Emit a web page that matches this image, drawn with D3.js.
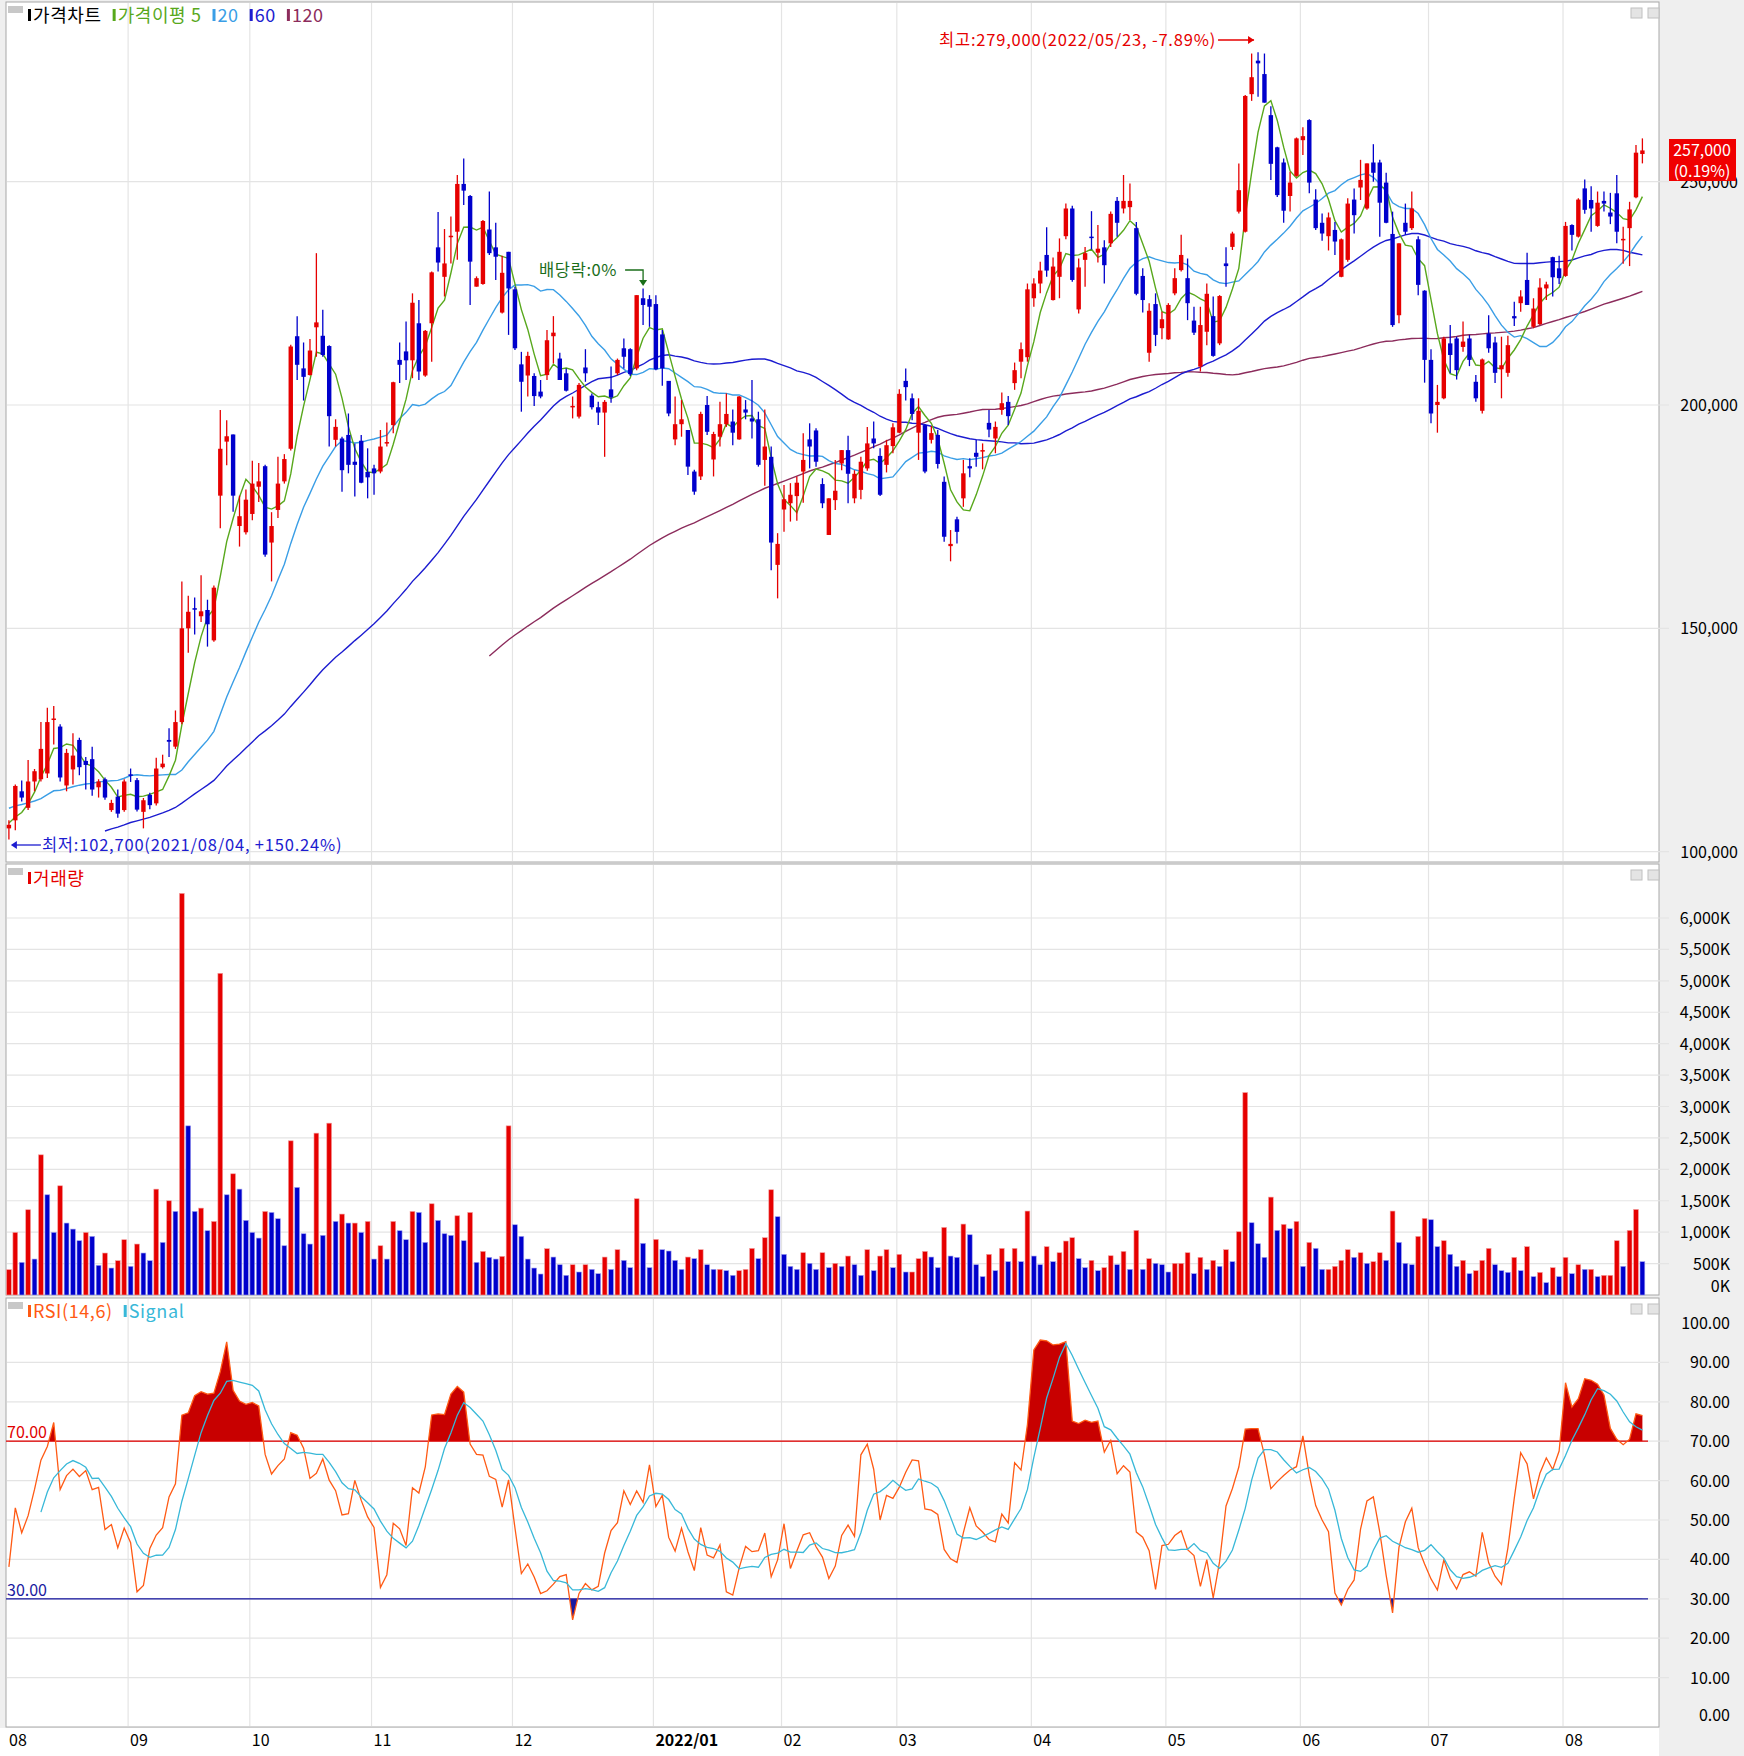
<!DOCTYPE html>
<html><head><meta charset="utf-8">
<script src="https://cdn.jsdelivr.net/npm/d3@7"></script>
<style>body{margin:0;background:#fff}svg{display:block}text{font-family:"Noto Sans CJK KR","Noto Sans",sans-serif}</style>
</head><body>
<script>
// ---------- DATA (prices in thousand KRW, volume in thousand shares) ----------
const preCloses = [83,84,86,85,87,88,87,89,90,89,91,92,91,93,94,93,95,96,95,97,98,97,99,100,101,
  104,106,108,110,112,111,113,114,115,113,112,114,111,109,110,108,107,106,105];
const opens = [105.2,107,113.5,109.8,115.7,116.2,117.5,129.5,128,114.8,118.4,125,120.3,120.7,114.4,116.2,109.3,112.3,109.3,117.3,
116,108.9,112.7,110.8,118.9,125,123.5,129,150,154.5,152.7,154.1,147.3,179.7,191.8,193.4,172.9,171.5,175.6,181.7,
186.3,169.2,176.5,182.9,190.2,215.4,208.2,206.7,217.4,215.5,213.2,192.2,192.5,193.3,187.3,192,185,185.8,185.1,191.5,
195.5,210.1,212,210,218.3,206.6,218.3,235.3,228.7,237.8,238.8,249.5,246.8,226.5,227.1,239.3,235.3,220.7,234.3,225.9,
209.1,206.6,206.5,203,206.7,215.4,210.4,207.1,199.7,197.4,208.4,202.1,199.5,198.3,203.5,207.1,212.7,212.5,208.2,223.9,
223.7,222.6,215.8,205.4,192.3,195.7,194.4,185.1,184,200,187.8,192.9,195.7,196.3,192.3,199,197,196.8,187.7,188.4,
164.2,176.6,178,179.6,185.1,192.3,194.3,182.3,170.9,178.7,186.9,189.9,179.1,181,185.8,192.5,188.6,186.6,190.8,193.8,
205.4,201.5,193.8,195.5,192.2,193.3,182.8,168.4,174.4,179.1,186.3,189.3,189.7,196,192.5,198.9,200.7,204.9,209.7,210.7,
223.9,227.2,233.6,223.5,228.7,237.8,244,221.4,232.5,237.7,234.1,235.3,236.2,245.7,244,244.3,239.6,228.9,211.7,222.6,
217.2,214.7,225,230.2,228.4,218.9,208.6,216.4,219.9,213.8,231.7,235.4,243.3,238.8,269.6,277.1,274.1,264.9,257.7,254.3,
246.8,251.3,259.3,263.8,246,240.8,237.8,239.2,228.7,232.5,246,248.7,244,254.3,254.3,249.8,238.3,220.1,240.8,239.6,
237.1,225.6,210.1,200,201.5,213.8,214.9,213,214.9,205.2,198.7,216,214,208,207.2,219.9,222.8,228,217.5,218.1,
226.1,233.1,230.6,228.9,240.3,237.7,248.5,245.9,240.1,245.7,243.1,247.4,237,239.6,246.5,256.2];
const highs = [107,115,115.9,120.5,118.5,129,132.2,132.6,128.5,123,126.5,125.5,121.2,123.5,116.2,116.6,111.6,113.9,116.2,118.6,
116.5,112,113.2,121,121.7,127.6,131.6,160.5,157.3,156.9,161.9,156.4,159.6,198.9,196.6,193.4,179.7,181.1,187.5,187,
186.6,176,188.4,189,213.5,219.9,214,214.8,234,221.3,213.4,196.8,192.9,198.1,191.4,193.3,190.3,186.6,194.4,196.1,
205.2,214,218.7,225,223.5,216.8,229.9,243.2,239.4,242.2,251.5,255.2,247,228.8,241.4,247.8,240.8,233.4,234.3,226.5,
211.9,211.9,207.1,205.6,216.8,219.9,211.7,208.2,201.9,204.9,212.5,202.6,200.7,201.1,208.6,210.4,214.9,212.7,224.6,226.1,
224.6,224.6,216.8,205.4,201.9,201.1,194.4,185.5,198.5,202,194,200.7,202.6,199,202,201.1,205.6,198.5,199,190.7,
171.3,182.1,182.5,184,193.7,195.9,194.8,183.6,179.1,187.7,189.9,193.1,185.4,188.4,195.1,196.3,190.3,192.2,195.9,203.5,
208.2,202.6,201.5,195.7,195.3,194.4,184,172,175,187.7,188.1,192.2,191.4,198.9,196.3,202.8,202,209.5,214,227.2,
228.4,232.1,239.8,233,237.3,245.1,244.6,232.8,235.4,243.4,240.3,236.9,243.3,246.6,251.5,249.6,241,230.6,222.8,225,
220.9,222.8,230.6,238.1,232.8,222,222,227.2,224.3,224.6,235.3,238.8,254.1,269.4,278.7,279,278.7,266.9,257.8,255.2,
252.2,259.9,262.2,264,248.3,242.9,243.1,241,237.3,246.3,248.5,254.9,254.1,258.4,254.9,252,243.3,236.2,245.1,247.8,
237.8,225.7,212.5,204.5,215.3,217.9,215.3,218.7,215.7,206.7,210.4,220.1,215.3,215.3,215.5,223.1,225.7,234.1,223.9,228.4,
227.6,233.2,233.4,241,240.5,246.3,250.5,249,247.8,247.8,247.5,251.5,239.9,245.5,258.2,259.7];
const lows = [102.7,104.8,111.2,109.3,113.5,115.7,116.5,124,115.7,113.5,115,117.1,113.9,112.5,112.1,111.6,108.9,107.6,108.9,115.6,
109,105.2,109.5,110.3,118.6,121.2,123,128.5,144.5,148.6,151.4,145.9,147,172.4,186.5,176.1,168.3,171,174.2,178.3,
166,160.5,174.7,182.4,189.8,205.6,201,206.6,210.8,210.8,190.7,190.7,180.6,184.7,179.5,182.5,179.1,179.9,184.7,190.7,
193.7,204.9,205.6,206,205.6,206.3,209.7,229.9,224.3,231.7,232.5,244.8,222.4,226.5,226.9,233.6,228,220.5,215.7,212.3,
198.5,201.9,199.8,201.5,205.6,209.3,205.6,203,197,197,205.2,199,195.5,188.4,200.5,206.7,208.2,206.5,207.8,217.9,
217.5,207.8,204.3,197.5,191,192.9,184.3,179.9,183.2,193.3,184,190.7,195.1,191,192.2,196.8,192.5,186.2,181.9,163,
156.7,171.6,173.9,174.1,178.1,185.8,186.2,176.9,170.9,176.5,185.4,178,178,178.9,185.3,190.3,179.6,184.9,189.2,193.7,
201,196.6,187.7,184.7,191.4,185.8,169.4,165,169,177.2,183.8,186.2,185.6,192.8,189.2,197.8,195.5,203.4,206,209.7,
222,225,228.7,223.4,223.9,237.1,227.6,220.5,226.5,234.8,231.9,227.2,235.4,237.7,242.9,241.4,224.6,220.7,209.7,213.2,
214.7,214.6,224.6,229.9,219,215.7,207.5,213.4,210.8,213.4,226.5,234.7,242.9,238.6,268.1,269,267.7,250.4,246.6,240.8,
243.3,251.1,256,247.4,239.2,236.8,234.6,233.6,228.6,232.1,238.4,245.9,243.7,250,237.7,240.7,217.5,218.3,238.1,239.2,
224.6,205,195.9,193.8,201.3,207.1,205.7,211.9,208.7,200.7,198.1,211.7,204.9,201.5,206.3,217.7,220.9,222.4,217.2,217.9,
223.5,224.3,227.1,228.7,234.6,237.5,242.8,238.8,239.9,243.3,240.5,236.2,231.6,231.1,246.3,254.1];
const closes = [106,114.7,112.1,115.7,118,123,129,129.8,116.6,122.1,121.5,118.9,119.4,113.9,115.7,112.1,110.9,108.5,115.7,117,
109.4,111.5,110.4,118.6,119.7,124.6,129,150,153.7,154.2,153.8,150.9,159.1,190.2,193,179.7,175.1,178.8,182.4,182.9,
166.5,172.9,182.4,187.9,213.1,209,206.3,212.2,218.5,211.2,197.5,195.1,185.4,186.6,186.6,182.6,183.8,184.7,190.7,191.7,
205.1,209,210,222.9,207.5,216.6,229.7,231.9,231.7,237.9,249.5,248,232.1,228.4,241.2,234,233.2,229.6,226.1,212.7,
205.2,211,202,201.9,214.5,216.2,205.6,203.2,199.8,204.5,207.1,199.5,198.3,200.7,201.7,210.1,210.8,206.9,224.6,222.4,
222,208,208.2,198.1,195.7,196.8,186.2,180.6,198,194,193.5,195.7,198,193.8,201.9,198.3,196.3,186.6,190.7,169.2,
168.9,178.9,179.9,182.6,187.7,190.7,187.3,178,179.1,180.8,189.9,184.6,184.6,187.3,191.4,191.4,179.9,191,195,202.5,
204,198,198.7,185.1,193.7,186.8,170.5,168.9,171.6,184.7,185.8,188.4,189.9,194.5,195.1,200.4,197.5,207.8,212.5,225.9,
227.2,230.1,230.1,231,234.3,244,228,230.8,234,237.6,235,231.3,242.8,240.8,245.7,245.7,224.9,223.5,221.1,215.7,
219.2,222.4,228.4,233.6,222.8,216.2,217.9,224.9,211,224.4,231.1,238.4,248.1,269.2,273.4,276.5,267.7,254,247,243.5,
249.8,259.7,260.2,249.8,239.6,238.4,242,236.6,237.1,245.1,242.5,250.4,254.1,252,245.3,240.8,217.9,236.2,238.8,244,
226.9,210.1,198.1,200.7,214.9,211.2,207.8,214.2,210.1,201.5,210.2,212.7,207.2,208.9,213.4,219.4,224.3,222.4,221.6,226.3,
227,228.6,228.4,240.1,238.1,246,243.7,244,245.3,245.1,242.2,238.8,237.2,243.8,256.5,257];
const volumes = [403,996,519,1357,572,2231,1595,996,1738,1145,1049,864,996,933,472,668,429,546,880,456,
811,668,546,1685,837,1500,1330,6392,2692,1330,1383,1023,1171,5120,1595,1929,1685,1187,996,906,
1330,1314,1214,784,2454,1712,975,811,2576,949,2735,1171,1288,1145,1145,996,1171,572,784,572,
1171,1023,880,1330,1314,837,1452,1187,975,949,1261,864,1314,519,694,599,572,615,2692,1118,
933,572,429,334,737,604,482,313,482,366,482,408,339,604,408,721,551,435,1532,822,
435,885,721,700,551,408,604,578,721,482,408,408,387,313,387,408,742,578,912,1675,
1246,647,456,408,673,504,408,673,435,504,456,620,482,313,721,387,620,721,435,647,
366,366,578,694,604,435,1076,620,599,1129,959,482,292,647,387,742,530,742,530,1336,
620,482,769,530,673,859,912,578,435,551,387,435,625,482,694,408,1028,408,578,504,
482,366,504,504,673,339,599,408,551,456,721,530,1007,3222,1150,816,599,1558,1028,1124,
1055,1171,456,837,742,408,408,456,551,721,599,673,504,530,673,551,1336,837,504,482,
933,1219,1198,769,864,647,456,551,339,387,551,742,482,387,360,599,387,769,292,360,
196,435,292,599,339,482,408,408,292,313,313,864,456,1028,1362,530];
const monthStart = [0,19,38,57,79,101,121,139,160,181,202,222,243];
const monthLabel = ["08","09","10","11","12","2022/01","02","03","04","05","06","07","08"];
const priceTicks = [100000,150000,200000,250000];
const volTicks = [0,500,1000,1500,2000,2500,3000,3500,4000,4500,5000,5500,6000];
const rsiTicks = [0,10,20,30,40,50,60,70,80,90,100];
const maPeriods = [5,20,60,120];

// ---------- LAYOUT ----------
const W=1744,H=1756, L=6, R=1659;
const P={top:2,bot:862}, V={top:864,bot:1295}, S={top:1298,bot:1727};
const RED="#e60000", BLUE="#0000cc";
const N=closes.length;
const svg=d3.select("body").append("svg").attr("width",W).attr("height",H);
svg.append("rect").attr("width",W).attr("height",H).attr("fill","#efefef");
[P,V,S].forEach(p=>svg.append("rect").attr("x",L).attr("y",p.top).attr("width",R-L).attr("height",p.bot-p.top)
  .attr("fill","#fff").attr("stroke","#a8a8a8"));
svg.append("rect").attr("x",0).attr("y",S.bot+1).attr("width",R).attr("height",H-S.bot).attr("fill","#fff");

const x=d3.scaleLinear().domain([0,255]).range([8.9,1642.4]);
const y=d3.scaleLinear().domain([100000,250000]).range([851.6,181.7]);
const yv=d3.scaleLinear().domain([0,6000]).range([1295,918]);
const yr=d3.scaleLinear().domain([0,100]).range([1717,1323]);
const grid="#e4e4e4";

monthStart.forEach((m,k)=>{
  const gx=x(m)-2.5;
  if(k>0)[P,V,S].forEach(p=>svg.append("line").attr("x1",gx).attr("x2",gx).attr("y1",p.top+1).attr("y2",p.bot-1).attr("stroke",grid).attr("stroke-width",1.2));
  svg.append("text").attr("x",k===0?9:gx+2).attr("y",1746).attr("font-size",16)
    .attr("font-weight",monthLabel[k].length>2?"bold":"normal").attr("fill","#000").text(monthLabel[k]);
});
priceTicks.forEach(t=>svg.append("line").attr("x1",L+1).attr("x2",R+10).attr("y1",y(t)).attr("y2",y(t)).attr("stroke",grid).attr("stroke-width",1.2));
volTicks.forEach(t=>{ if(t>0) svg.append("line").attr("x1",L+1).attr("x2",R+10).attr("y1",yv(t)).attr("y2",yv(t)).attr("stroke",grid).attr("stroke-width",1.2);});
rsiTicks.forEach(t=>{ if(t>0&&t<100) svg.append("line").attr("x1",L+1).attr("x2",R+10).attr("y1",yr(t)).attr("y2",yr(t)).attr("stroke",grid).attr("stroke-width",1.2);});

const fmt=d3.format(",");
priceTicks.forEach(t=>svg.append("text").attr("x",1738).attr("y",y(t)+6).attr("text-anchor","end").attr("font-size",16).text(fmt(t)));
volTicks.forEach(t=>svg.append("text").attr("x",1730).attr("y",(t===0?yv(t)-9:yv(t))+6).attr("text-anchor","end").attr("font-size",16).text(fmt(t)+"K"));
rsiTicks.forEach(t=>svg.append("text").attr("x",1730).attr("y",(t===0?yr(t)-2:yr(t))+6).attr("text-anchor","end").attr("font-size",16).text(t.toFixed(2)));

// ---------- PRICE ----------
const allC=preCloses.concat(closes).map(v=>v*1000), off=preCloses.length;
function ma(p){const r=[];for(let i=0;i<N;i++){const j=i+off;if(j-p+1<0){r.push(null);continue;}r.push(d3.mean(allC.slice(j-p+1,j+1)));}return r;}
const maColors=["#58a81c","#3a9ee6","#1c1cd0","#8c2c5c"];
maPeriods.slice().reverse().forEach((p,k)=>{
  const vals=ma(p), col=maColors[maPeriods.length-1-k];
  svg.append("path").attr("fill","none").attr("stroke",col).attr("stroke-width",1.4)
    .attr("d",d3.line().defined(d=>d!=null).x((d,i)=>x(i)).y(d=>y(d))(vals));
});
for(let i=0;i<N;i++){
  const o=opens[i]*1000,c=closes[i]*1000,h=highs[i]*1000,l=lows[i]*1000,col=c>=o?RED:BLUE;
  svg.append("line").attr("x1",x(i)).attr("x2",x(i)).attr("y1",y(h)).attr("y2",y(l)).attr("stroke",col).attr("stroke-width",1.3);
  const t=y(Math.max(o,c)),b=y(Math.min(o,c));
  svg.append("rect").attr("x",x(i)-2.2).attr("y",t).attr("width",4.4).attr("height",Math.max(1.5,b-t)).attr("fill",col);
}
// ---------- VOLUME ----------
for(let i=0;i<N;i++){
  const col=(i===0||volumes[i]>=volumes[i-1])?RED:BLUE;
  svg.append("rect").attr("x",x(i)-2.4).attr("y",yv(volumes[i])).attr("width",4.8).attr("height",yv(0)-yv(volumes[i]))
    .attr("fill",col).attr("stroke",col===RED?"#f4a0a0":"#a0a0f0").attr("stroke-width",0.6);
}
// ---------- RSI ----------
const rsi=[];
for(let i=0;i<N;i++){const j=i+off;let u=0,d=0;for(let k=j-13;k<=j;k++){const df=allC[k]-allC[k-1];if(df>0)u+=df;else d-=df;}rsi.push(u+d===0?50:100*u/(u+d));}
const sig=rsi.map((v,i)=>i<5?null:d3.mean(rsi.slice(i-5,i+1)));
const defs=svg.append("defs");
defs.append("clipPath").attr("id","c70").append("rect").attr("x",L).attr("y",S.top).attr("width",R-L).attr("height",yr(70)-S.top);
defs.append("clipPath").attr("id","c30").append("rect").attr("x",L).attr("y",yr(30)).attr("width",R-L).attr("height",S.bot-yr(30));
svg.append("path").attr("clip-path","url(#c70)").attr("fill","#c80000")
  .attr("d",d3.area().x((d,i)=>x(i)).y0(yr(70)).y1(d=>yr(d))(rsi));
svg.append("path").attr("clip-path","url(#c30)").attr("fill","#1a1aa0")
  .attr("d",d3.area().x((d,i)=>x(i)).y0(yr(30)).y1(d=>yr(d))(rsi));
svg.append("line").attr("x1",L).attr("x2",1648).attr("y1",yr(70)).attr("y2",yr(70)).attr("stroke","#e00000").attr("stroke-width",1.3);
svg.append("line").attr("x1",L).attr("x2",1648).attr("y1",yr(30)).attr("y2",yr(30)).attr("stroke","#1a1aa0").attr("stroke-width",1.3);
svg.append("path").attr("fill","none").attr("stroke","#ff5a14").attr("stroke-width",1.3).attr("d",d3.line().x((d,i)=>x(i)).y(d=>yr(d))(rsi));
svg.append("path").attr("fill","none").attr("stroke","#38b8d8").attr("stroke-width",1.3)
  .attr("d",d3.line().defined(d=>d!=null).x((d,i)=>x(i)).y(d=>yr(d))(sig));
svg.append("text").attr("x",7).attr("y",yr(70)-3).attr("font-size",16).attr("fill","#e00000").text("70.00");
svg.append("text").attr("x",7).attr("y",yr(30)-3).attr("font-size",16).attr("fill","#1a1aa0").text("30.00");

// ---------- LEGENDS / ANNOTATIONS ----------
function legend(yy,items){let cx=28;items.forEach(([t,c])=>{
  svg.append("rect").attr("x",cx).attr("y",yy-13).attr("width",3).attr("height",12).attr("fill",c);
  const tx=svg.append("text").attr("x",cx+5).attr("y",yy).attr("font-size",18).attr("letter-spacing",0.6).attr("fill",c).text(t);
  cx+=tx.node().getComputedTextLength()+16;});}
[P,V,S].forEach(p=>{svg.append("rect").attr("x",8).attr("y",p.top+4).attr("width",15).attr("height",7).attr("fill","#c8c8c8");
  [1631,1648].forEach(bx=>svg.append("rect").attr("x",bx).attr("y",p.top+6).attr("width",11).attr("height",10).attr("fill","#e4e4e4").attr("stroke","#c0c0c0"));});
legend(22,[["가격차트","#000"],["가격이평 5","#58a81c"],["20","#3a9ee6"],["60","#1c1cd0"],["120","#8c2c5c"]]);
legend(885,[["거래량",RED]]);
legend(1318,[["RSI(14,6)","#ff5a14"],["Signal","#38b8d8"]]);

const hiI=d3.maxIndex(highs), loI=d3.minIndex(lows);
const hx=x(hiI), hy=46;
svg.append("text").attr("x",hx-42).attr("y",hy).attr("text-anchor","end").attr("font-size",16.5).attr("letter-spacing",0.8).attr("fill",RED)
  .text(`최고:${fmt(highs[hiI]*1000)}(2022/05/23, -7.89%)`);
svg.append("line").attr("x1",hx-40).attr("x2",hx-4).attr("y1",hy-6).attr("y2",hy-6).attr("stroke",RED).attr("stroke-width",1.3);
svg.append("path").attr("d",`M${hx-4},${hy-6}l-6,-4v8z`).attr("fill",RED);
const lx=x(loI)+2, ly=851;
svg.append("line").attr("x1",lx+4).attr("x2",lx+30).attr("y1",ly-6).attr("y2",ly-6).attr("stroke","#1c1cd0").attr("stroke-width",1.3);
svg.append("path").attr("d",`M${lx},${ly-6}l6,-4v8z`).attr("fill","#1c1cd0");
svg.append("text").attr("x",lx+31).attr("y",ly).attr("font-size",16.5).attr("letter-spacing",0.8).attr("fill","#1c1cd0")
  .text(`최저:${fmt(lows[loI]*1000)}(2021/08/04, +150.24%)`);
const dx=x(99), dy=270;
svg.append("text").attr("x",dx-104).attr("y",dy+6).attr("font-size",16.5).attr("letter-spacing",0.6).attr("fill","#1a6e1a").text("배당락:0%");
svg.append("path").attr("fill","none").attr("stroke","#1a6e1a").attr("stroke-width",1.3).attr("d",`M${dx-18},${dy}H${dx}V${dy+12}`);
svg.append("path").attr("d",`M${dx},${dy+16}l-4,-6h8z`).attr("fill","#1a6e1a");
const last=closes[N-1]*1000, prev=closes[N-2]*1000;
svg.append("rect").attr("x",1669).attr("y",139).attr("width",67).attr("height",42).attr("fill","#f00000");
svg.append("text").attr("x",1702).attr("y",156).attr("text-anchor","middle").attr("font-size",16).attr("fill","#fff").text(fmt(last));
svg.append("text").attr("x",1702).attr("y",177).attr("text-anchor","middle").attr("font-size",16).attr("fill","#fff").text(`(${((last-prev)/prev*100).toFixed(2)}%)`);
</script>
</body></html>
